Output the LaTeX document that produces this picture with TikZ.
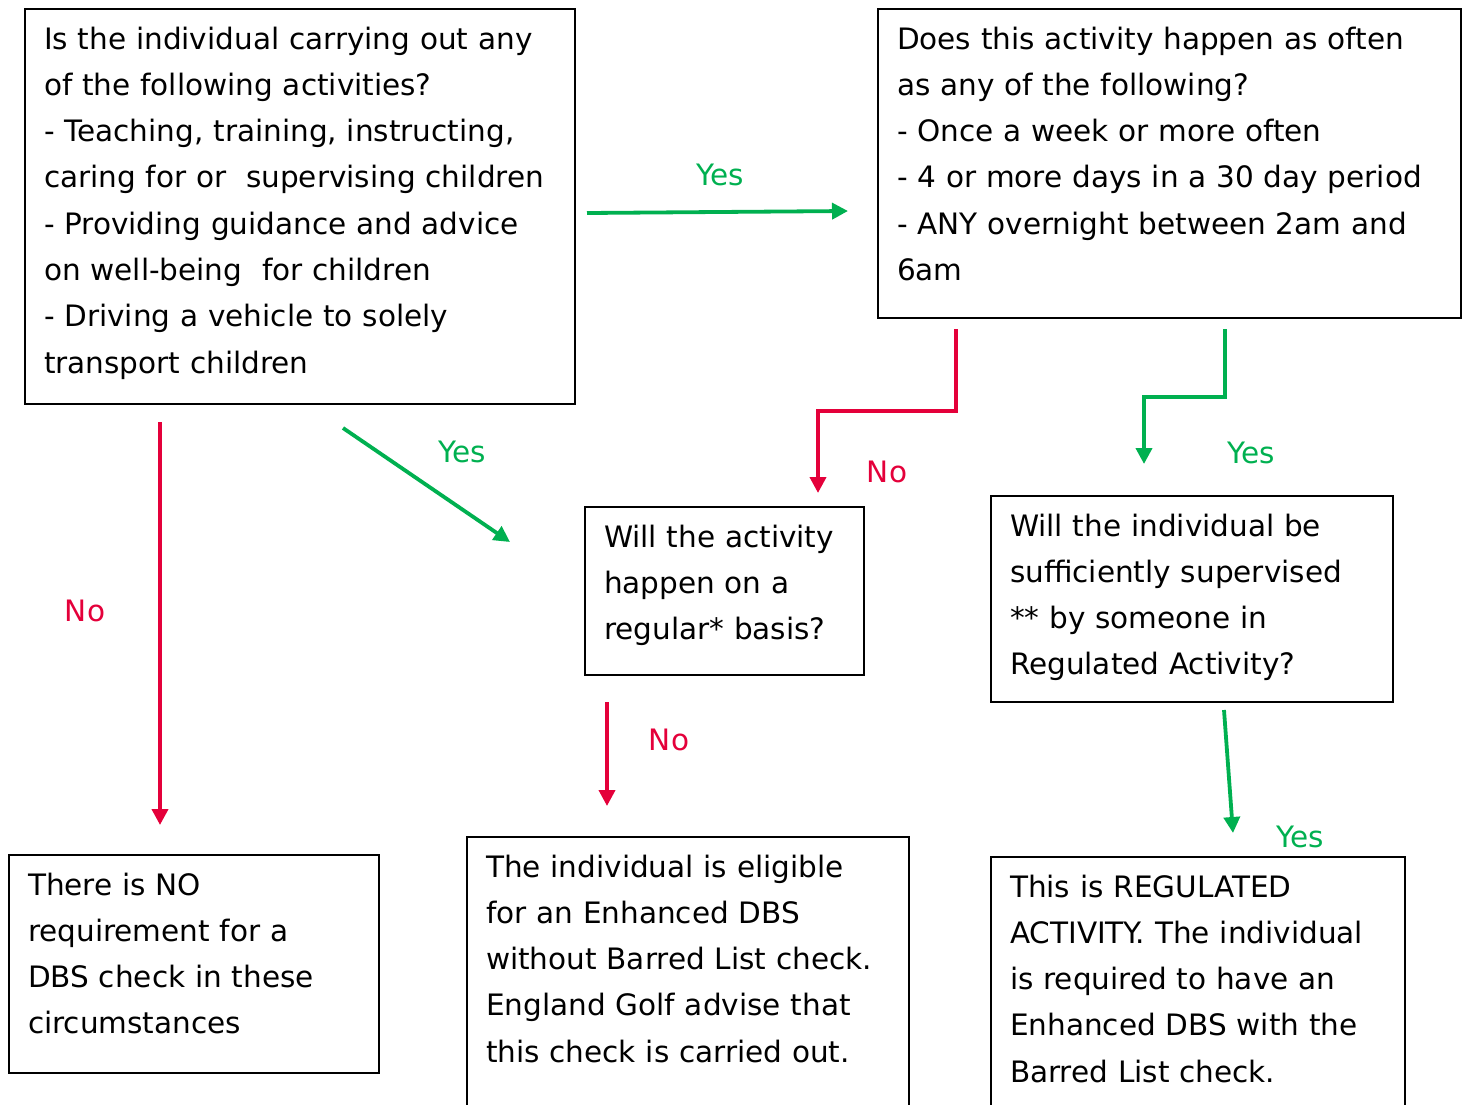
\documentclass[tikz,border=0pt]{standalone}
\usepackage{fontspec}
\setmainfont{DejaVu Sans}
\usepackage{xcolor}
\usepackage{tikz}
\usetikzlibrary{arrows.meta,positioning,calc}

\definecolor{dbsgreen}{RGB}{0,176,80}
\definecolor{dbsred}{RGB}{228,0,58}

\begin{document}
\begin{tikzpicture}[
    x=1pt, y=-1pt,
    font=\fontsize{29.5}{46.3}\selectfont,
    box/.style={rectangle, draw, line width=2pt, anchor=north west, align=left, inner xsep=19pt, inner ysep=0pt, text height=40pt},
    yesarrow/.style={-{Triangle[length=16pt,width=16pt]}, line width=3.8pt, dbsgreen},
    noarrow/.style={-{Triangle[length=16pt,width=16pt]}, line width=3.8pt, dbsred},
    yesnote/.style={text=dbsgreen, anchor=base, inner sep=0pt},
    nonote/.style={text=dbsred, anchor=base, inner sep=0pt}
]
    \useasboundingbox (0,0) rectangle (1467,1104);
    \clip (0,0) rectangle (1467,1104);

    % === Question boxes ===
    \node[box, text width=512pt, text depth=355pt] (activity) at (24,8)
        {Is the individual carrying out any\\
         of the following activities?\\
         - Teaching, training, instructing,\\
         caring for or\ \ supervising children\\
         - Providing guidance and advice\\
         on well-being\ \ for children\\
         - Driving a vehicle to solely\\
         transport children};
    \node[box, text width=545pt, text depth=269pt] (often) at (877,8)
        {Does this activity happen as often\\
         as any of the following?\\
         - Once a week or more often\\
         - 4 or more days in a 30 day period\\
         - ANY overnight between 2am and\\
         6am};
    \node[box, text width=241pt, text depth=128pt] (regular) at (584,506)
        {Will the activity\\
         happen on a\\
         regular* basis?};
    \node[box, text width=364pt, text depth=166pt] (supervised) at (990,495)
        {Will the individual be\\
         sufficiently supervised\\
         {**} by someone in\\
         Regulated Activity?};

    % === Outcome boxes ===
    \node[box, text width=332pt, text depth=178pt] (noreq) at (8,854)
        {There is NO\\
         requirement for a\\
         DBS check in these\\
         circumstances};
    \node[box, text width=404pt, text depth=260pt] (enhanced) at (466,836)
        {The individual is eligible\\
         for an Enhanced DBS\\
         without Barred List check.\\
         England Golf advise that\\
         this check is carried out.};
    \node[box, text width=376pt, text depth=240pt] (regulated) at (990,856)
        {This is REGULATED\\
         ACTIVITY. The individual\\
         is required to have an\\
         Enhanced DBS with the\\
         Barred List check.};

    % === Arrow end points ===
    \coordinate (a1s) at (587,213);   \coordinate (a1e) at (848,211);
    \coordinate (a2s) at (160,422);   \coordinate (a2e) at (160,825);
    \coordinate (a3s) at (343,428);   \coordinate (a3e) at (510,542);
    \coordinate (a4s) at (956,329);   \coordinate (a4e) at (818,493);
    \coordinate (a5s) at (1225,329);  \coordinate (a5e) at (1144,464);
    \coordinate (a6s) at (607,702);   \coordinate (a6e) at (607,806);
    \coordinate (a7s) at (1224,710);  \coordinate (a7e) at (1233,833);

    % === Connectors ===
    \draw[yesarrow] (a1s) -- (a1e);
    \node[yesnote] (yes1) at (720,185) {Yes};

    \draw[noarrow] (a2s) -- (a2e);
    \node[nonote] (no1) at (85,621) {No};

    \draw[yesarrow] (a3s) -- (a3e);
    \node[yesnote] (yes2) at (462,462) {Yes};

    \draw[noarrow] (a4s) -- ++(0,82) -| (a4e);
    \node[nonote] (no2) at (887,482) {No};

    \draw[yesarrow] (a5s) -- ++(0,68) -| (a5e);
    \node[yesnote] (yes3) at (1251,463) {Yes};

    \draw[noarrow] (a6s) -- (a6e);
    \node[nonote] (no3) at (669,750) {No};

    \draw[yesarrow] (a7s) -- (a7e);
    \node[yesnote] (yes4) at (1300,847) {Yes};
\end{tikzpicture}
\end{document}
